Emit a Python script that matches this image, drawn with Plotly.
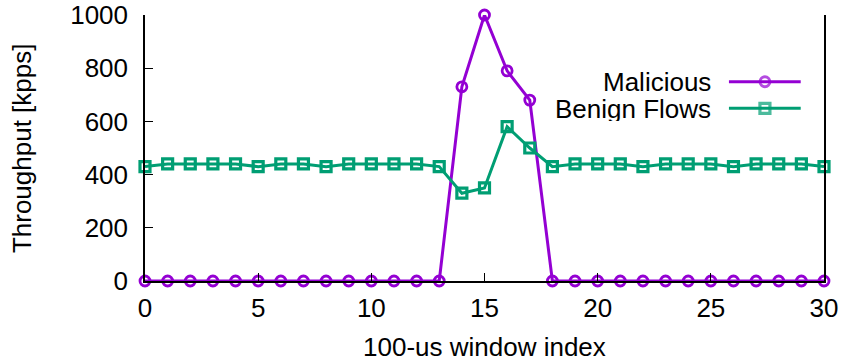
import plotly.graph_objects as go

window_index = list(range(31))
malicious = [0]*14 + [730, 1000, 790, 680] + [0]*13
benign = [430, 440, 440, 440, 440, 430, 440, 440, 430, 440, 440, 440, 440, 430,
          330, 350, 580, 500,
          430, 440, 440, 440, 430, 440, 440, 440, 430, 440, 440, 440, 430]
series_names = ["Malicious", "Benign Flows"]
x_ticks = [0, 5, 10, 15, 20, 25, 30]
y_ticks = [0, 200, 400, 600, 800, 1000]
x_title = "100-us window index"
y_title = "Throughput [kpps]"

PURPLE = "#9400D3"
GREEN = "#009E73"
FONT = "Liberation Sans, Arial, Helvetica, sans-serif"
FS = 26

fig = go.Figure()
fig.add_trace(go.Scatter(x=window_index, y=malicious, mode="lines+markers",
                         line=dict(color=PURPLE, width=3),
                         marker=dict(symbol="circle-open", size=10, color=PURPLE, line=dict(width=2.8)),
                         cliponaxis=False, showlegend=False))
fig.add_trace(go.Scatter(x=window_index, y=benign, mode="lines+markers",
                         line=dict(color=GREEN, width=3),
                         marker=dict(symbol="square-open", size=10, color=GREEN, line=dict(width=3.2)),
                         cliponaxis=False, showlegend=False))

# manual legend (text left of sample, gnuplot style)
leg_rows = [0.749, 0.649]
styles = [
    (PURPLE, "circle-open", 10, 2.8),
    (GREEN, "square-open", 10, 3.2),
]
for name, yy, (col, sym, sz, lw) in zip(series_names, leg_rows, styles):
    fig.add_trace(go.Scatter(x=[0.860, 0.913, 0.9657], y=[yy]*3, xaxis="x2", yaxis="y2",
                             mode="lines+markers", line=dict(color=col, width=3),
                             marker=dict(symbol=sym, size=[0, sz, 0], color=col, line=dict(width=lw)),
                             showlegend=False, hoverinfo="skip", cliponaxis=False))
    fig.add_annotation(x=0.8346, y=yy, xref="paper", yref="paper", text=name,
                       showarrow=False, xanchor="right", yanchor="middle",
                       height=25, valign="middle", borderpad=0,
                       font=dict(family=FONT, size=FS, color="black"))

fig.add_annotation(x=0.5007, y=-0.248, xref="paper", yref="paper", text=x_title,
                   showarrow=False, xanchor="center", yanchor="middle",
                   font=dict(family=FONT, size=FS, color="black"))
fig.add_annotation(x=-0.181, y=0.5, xref="paper", yref="paper", text=y_title,
                   showarrow=False, xanchor="center", yanchor="middle", textangle=-90,
                   font=dict(family=FONT, size=FS, color="black"))

fig.update_layout(
    width=844, height=364,
    margin=dict(l=145, r=20, t=15, b=83),
    paper_bgcolor="white", plot_bgcolor="white",
    font=dict(family=FONT, size=FS, color="black"),
    xaxis=dict(range=[0, 30], tickvals=x_ticks, ticks="inside", ticklen=8, tickwidth=1,
               tickcolor="black", showline=True, linecolor="black", linewidth=1.5,
               showgrid=False, zeroline=False, mirror=False, automargin=False,
               ticklabelstandoff=3),
    yaxis=dict(range=[0, 1000], tickvals=y_ticks, ticks="inside", ticklen=8, tickwidth=1,
               tickcolor="black", showline=True, linecolor="black", linewidth=1.5,
               showgrid=False, zeroline=False, mirror=True, automargin=False,
               ticklabelstandoff=10),
    xaxis2=dict(range=[0, 1], overlaying="x", visible=False, fixedrange=True),
    yaxis2=dict(range=[0, 1], overlaying="y", visible=False, fixedrange=True),
)

fig.write_html("out.html")
